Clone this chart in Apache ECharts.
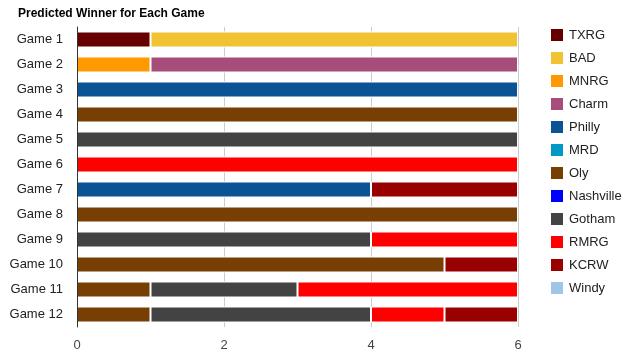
<!DOCTYPE html>
<html><head><meta charset="utf-8">
<script src="https://cdn.jsdelivr.net/npm/echarts@6/dist/echarts.min.js"></script>
<style>html,body{margin:0;padding:0;background:#fff}#c{width:639px;height:360px}</style>
</head><body><div id="c"></div>
<script>
const categories = ["Game 1","Game 2","Game 3","Game 4","Game 5","Game 6","Game 7","Game 8","Game 9","Game 10","Game 11","Game 12"];
const seriesNames = ["TXRG","BAD","MNRG","Charm","Philly","MRD","Oly","Nashville","Gotham","RMRG","KCRW","Windy"];
const colors = ["#660000","#f1c232","#ff9900","#a64d79","#0b5394","#0099c6","#783f04","#0000ff","#434343","#ff0000","#990000","#9fc5e8"];
const TXRG      = [1,0,0,0,0,0,0,0,0,0,0,0];
const BAD       = [5,0,0,0,0,0,0,0,0,0,0,0];
const MNRG      = [0,1,0,0,0,0,0,0,0,0,0,0];
const Charm     = [0,5,0,0,0,0,0,0,0,0,0,0];
const Philly    = [0,0,6,0,0,0,4,0,0,0,0,0];
const MRD       = [0,0,0,0,0,0,0,0,0,0,0,0];
const Oly       = [0,0,0,6,0,0,0,6,0,5,1,1];
const Nashville = [0,0,0,0,0,0,0,0,0,0,0,0];
const Gotham    = [0,0,0,0,6,0,0,0,4,0,2,3];
const RMRG      = [0,0,0,0,0,6,0,0,2,0,3,1];
const KCRW      = [0,0,0,0,0,0,2,0,0,1,0,1];
const Windy     = [0,0,0,0,0,0,0,0,0,0,0,0];
const xTicks = [0,2,4,6];
const values = [TXRG,BAD,MNRG,Charm,Philly,MRD,Oly,Nashville,Gotham,RMRG,KCRW,Windy];

const chart = echarts.init(document.getElementById('c'), null, {renderer:'canvas'});
const font = '"Liberation Sans", Arial, sans-serif';
chart.setOption({
  animation:false,
  color: colors,
  textStyle:{fontFamily:font},
  title:{text:'Predicted Winner for Each Game', left:13, top:3,
    textStyle:{fontSize:12, fontWeight:'bold', color:'#000', fontFamily:font}},
  legend:{orient:'vertical', left:549, top:27, padding:0, itemWidth:14, itemHeight:14, itemGap:7,
    icon:'rect', data:seriesNames,
    textStyle:{fontSize:13, color:'#222', fontFamily:font}},
  grid:{left:77, right:121, top:27, bottom:33, containLabel:false},
  xAxis:{type:'value', min:xTicks[0], max:xTicks[xTicks.length-1], interval:2,
    axisLine:{show:false}, axisTick:{show:false},
    splitLine:{lineStyle:{color:'#cccccc'}},
    axisLabel:{color:'#444', fontSize:13, margin:12, fontFamily:font,
      formatter: v => xTicks.includes(v) ? String(v) : ''}},
  yAxis:{type:'category', data:categories, inverse:true, z:10,
    axisLine:{show:true, lineStyle:{color:'#333'}}, axisTick:{show:false},
    axisLabel:{color:'#222', fontSize:13, margin:14, fontFamily:font}},
  series: seriesNames.map((n,i)=>({
    name:n, type:'bar', stack:'total', barWidth:16,
    data: values[i].map(v => v === 0 ? null : v),
    itemStyle:{borderColor:'#fff', borderWidth:1}
  }))
});
</script></body></html>
